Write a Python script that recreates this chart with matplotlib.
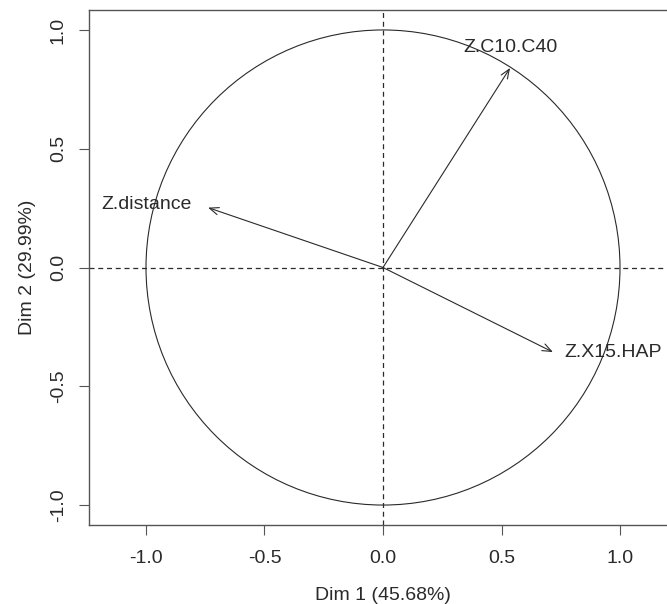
import matplotlib
matplotlib.use("Agg")
import matplotlib.pyplot as plt
from matplotlib.patches import Circle

# variables factor map (PCA)
var_names = ["Z.C10.C40", "Z.distance", "Z.X15.HAP"]
dim1 = [0.536, -0.738, 0.717]
dim2 = [0.840, 0.252, -0.356]
label_side = ["top", "left", "right"]

x_ticks = [-1.0, -0.5, 0.0, 0.5, 1.0]
y_ticks = [-1.0, -0.5, 0.0, 0.5, 1.0]
x_label = "Dim 1 (45.68%)"
y_label = "Dim 2 (29.99%)"

plt.rcParams["font.family"] = ["Liberation Sans", "DejaVu Sans"]
FS = 14
INK = "#2a2a2a"

W, H = 667, 604
fig = plt.figure(figsize=(W / 100, H / 100), dpi=100)
# axes box in pixels: left 89, bottom 525, top 10, right runs past the image edge
left, right, top, bottom = 89, 677, 10, 525
ax = fig.add_axes([left / W, 1 - bottom / H, (right - left) / W, (bottom - top) / H])
ax.set_xlim(-1.2405, 1.2405)
ax.set_ylim(-1.084, 1.084)

for s in ax.spines.values():
    s.set_color("#555555")
    s.set_linewidth(1.0)

ax.set_xticks(x_ticks)
ax.set_yticks(y_ticks)
ax.set_xticklabels([f"{v:.1f}" for v in x_ticks])
ax.set_yticklabels([f"{v:.1f}" for v in y_ticks], rotation=90, va="center")
ax.tick_params(direction="out", length=7, width=0.8, color="#555555",
               labelsize=FS, labelcolor=INK)
ax.tick_params(axis="x", pad=11)
ax.tick_params(axis="y", pad=9)

# unit circle and dashed axes
ax.add_patch(Circle((0, 0), 1.0, fill=False, color=INK, lw=0.8))
ax.axhline(0, color=INK, lw=0.9, ls=(0, (4, 3)))
ax.axvline(0, color=INK, lw=0.9, ls=(0, (4, 3)))

for name, x, y, side in zip(var_names, dim1, dim2, label_side):
    ax.annotate("", xy=(x, y), xytext=(0, 0),
                arrowprops=dict(arrowstyle="->,head_length=0.55,head_width=0.22",
                                color=INK, lw=0.8, shrinkA=0, shrinkB=0,
                                mutation_scale=12))
    if side == "top":
        ax.annotate(name, (x, y), xytext=(0, 14.5), textcoords="offset points",
                    ha="center", va="center", fontsize=FS, color=INK)
    elif side == "left":
        ax.annotate(name, (x, y), xytext=(-11.5, 2), textcoords="offset points",
                    ha="right", va="center", fontsize=FS, color=INK)
    else:
        ax.annotate(name, (x, y), xytext=(8.5, 0), textcoords="offset points",
                    ha="left", va="center", fontsize=FS, color=INK,
                    annotation_clip=False)

fig.text(383 / W, 1 - 596 / H, x_label, ha="center", va="center", fontsize=FS, color=INK)
fig.text(28 / W, 1 - 267 / H, y_label, ha="center", va="center", rotation=90,
         fontsize=FS, color=INK)

fig.savefig("out.png", dpi=100)
